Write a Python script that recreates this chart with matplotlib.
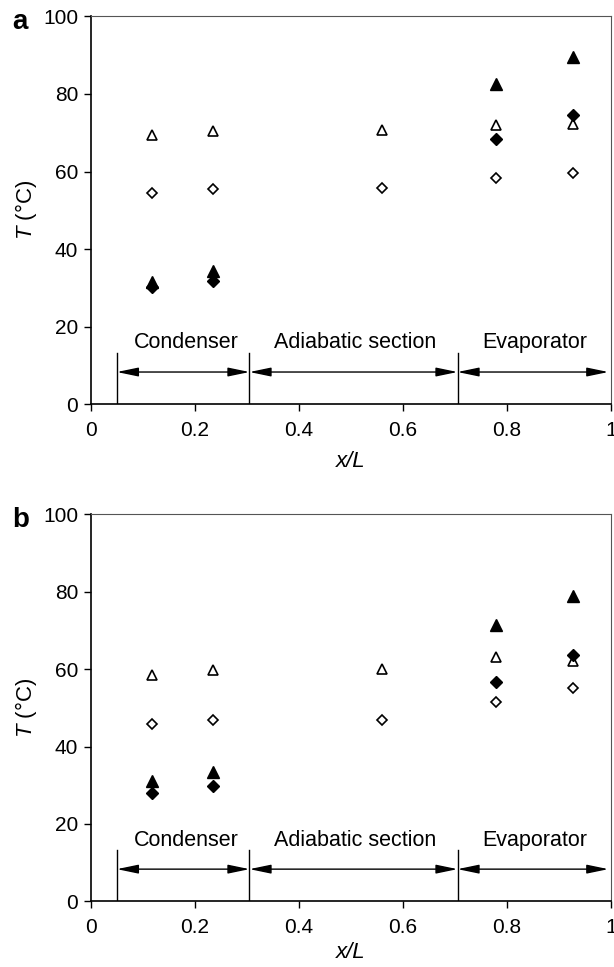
import matplotlib
matplotlib.use("Agg")
import matplotlib.pyplot as plt

plt.rcParams["font.family"] = ["Liberation Sans", "DejaVu Sans"]
plt.rcParams["mathtext.fontset"] = "custom"
plt.rcParams["mathtext.it"] = "Liberation Sans:italic"
plt.rcParams["mathtext.rm"] = "Liberation Sans"

x_pos = [0.117, 0.235, 0.559, 0.779, 0.927]
x_hot = [0.117, 0.235, 0.779, 0.927]

# panel a
a_open_tri = [69.3, 70.4, 70.6, 71.9, 72.2]
a_open_dia = [54.5, 55.4, 55.8, 58.4, 59.6]
a_fill_tri = [31.4, 34.4, 82.6, 89.5]
a_fill_dia = [30.1, 31.7, 68.5, 74.7]

# panel b
b_open_tri = [58.6, 59.7, 60.0, 63.1, 62.0]
b_open_dia = [45.9, 46.8, 46.9, 51.5, 55.2]
b_fill_tri = [31.2, 33.4, 71.5, 78.8]
b_fill_dia = [28.0, 29.7, 56.7, 63.6]

section_edges = [0.05, 0.305, 0.705, 0.995]
section_names = ["Condenser", "Adiabatic section", "Evaporator"]
section_label_x = [0.184, 0.508, 0.854]

fig = plt.figure(figsize=(6.14, 9.67), dpi=100)
ax_a = fig.add_axes([0.148, 0.582, 0.847, 0.401])
ax_b = fig.add_axes([0.148, 0.068, 0.847, 0.400])


def draw_panel(ax, open_tri, open_dia, fill_tri, fill_dia, letter, xlabelpad):
    ax.plot(x_pos, open_tri, ls="none", marker="^", ms=7.5, mfc="white",
            mec="black", mew=1.2)
    ax.plot(x_pos, open_dia, ls="none", marker="D", ms=5.5, mfc="white",
            mec="black", mew=1.2)
    ax.plot(x_hot, fill_tri, ls="none", marker="^", ms=8.5, color="black")
    ax.plot(x_hot, fill_dia, ls="none", marker="D", ms=6, color="black")

    # section markers
    for xe in section_edges[:3]:
        ax.plot([xe, xe], [0, 13.2], color="black", lw=1)
    for i in range(3):
        ax.annotate("", xy=(section_edges[i + 1], 8.3), xytext=(section_edges[i], 8.3),
                    arrowprops=dict(arrowstyle="<|-|>,head_length=1.3,head_width=0.27",
                                    mutation_scale=10, shrinkA=0, shrinkB=0,
                                    color="black", lw=1))
        ax.text(section_label_x[i], 15.8, section_names[i], ha="center", va="center",
                fontsize=15.5)

    ax.set_xlim(0, 1)
    ax.set_ylim(0, 100)
    ax.set_xticks([0, 0.2, 0.4, 0.6, 0.8, 1])
    ax.set_xticklabels(["0", "0.2", "0.4", "0.6", "0.8", "1"])
    ax.set_yticks([0, 20, 40, 60, 80, 100])
    ax.tick_params(direction="out", length=5, width=1, labelsize=15, pad=4,
                   top=False, right=False)
    ax.tick_params(axis="x", pad=7)
    for s in ["top", "right"]:
        ax.spines[s].set_color("#555555")
    for s in ["left", "bottom"]:
        ax.spines[s].set_linewidth(1.2)
    ax.set_ylabel(r"$\it{T}$ (°C)", fontsize=16, labelpad=3)
    ax.set_xlabel("x/L", fontsize=16, style="italic", labelpad=xlabelpad)
    ax.text(-0.152, 0.985, letter, transform=ax.transAxes, fontsize=20,
            fontweight="bold", ha="left", va="center")


draw_panel(ax_a, a_open_tri, a_open_dia, a_fill_tri, a_fill_dia, "a", 8)
draw_panel(ax_b, b_open_tri, b_open_dia, b_fill_tri, b_fill_dia, "b", 4)

fig.savefig("out.png", dpi=100)
